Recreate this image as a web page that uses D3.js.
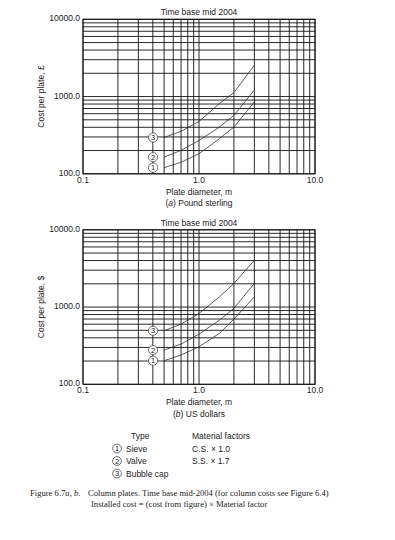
<!DOCTYPE html>
<html>
<head>
<meta charset="utf-8">
<script src="https://cdn.jsdelivr.net/npm/d3@7"></script>
<style>
  html, body { margin: 0; padding: 0; background: #fff; }
  svg { display: block; }
  .sans { font-family: "Liberation Sans", Arial, sans-serif; fill: #222; }
  .serif { font-family: "Liberation Serif", "Times New Roman", serif; fill: #222; }
</style>
</head>
<body>
<svg id="fig" width="395" height="540"></svg>
<script>
// plate diameter, m
const diameters = [0.5, 0.7, 1.0, 1.5, 2.0, 3.0];

// (a) Pound sterling
const poundSieve  = [120, 141, 182, 285, 403, 850];
const poundValve  = [164, 201, 270, 403, 571, 1210];
const poundBubble = [295, 354, 477, 811, 1125, 2550];

// (b) US dollars
const dollarSieve  = [202, 239, 306, 456, 698, 1355];
const dollarValve  = [277, 331, 447, 676, 960, 2020];
const dollarBubble = [493, 601, 826, 1355, 2020, 4040];

const xTickLabels = [0.1, 1, 10];
const yTickLabels = [100, 1000, 10000];

const legendTypes = ['Sieve', 'Valve', 'Bubble cap'];
const legendFactors = ['C.S. \u00d7 1.0', 'S.S. \u00d7 1.7'];

const svg = d3.select('#fig');

function gridValues(lo, hi) {
    const out = [];
    for (let d = lo; d < hi; d *= 10) {
        for (let k = 1; k < 10; k++) out.push(d * k);
    }
    out.push(hi);
    return out;
}

function drawChart(top, yLabel, subLabel, series) {
    const left = 83, right = 315, bottom = top + 154.5;
    const x = d3.scaleLog().domain([0.1, 10]).range([left, right]);
    const y = d3.scaleLog().domain([100, 10000]).range([bottom, top]);
    const g = svg.append('g');

    // grid
    g.append('g').selectAll('line').data(gridValues(0.1, 10)).join('line')
        .attr('x1', (d) => x(d)).attr('x2', (d) => x(d))
        .attr('y1', top).attr('y2', bottom)
        .attr('stroke', '#111').attr('stroke-width', 0.9);
    g.append('g').selectAll('line').data(gridValues(100, 10000)).join('line')
        .attr('x1', left).attr('x2', right)
        .attr('y1', (d) => y(d)).attr('y2', (d) => y(d))
        .attr('stroke', '#111').attr('stroke-width', 0.9);
    g.append('rect')
        .attr('x', left).attr('y', top)
        .attr('width', right - left).attr('height', bottom - top)
        .attr('fill', 'none').attr('stroke', '#111').attr('stroke-width', 1);

    // tick labels
    g.append('g').selectAll('text').data(yTickLabels).join('text')
        .attr('class', 'sans').attr('font-size', 8.5)
        .attr('x', left - 3).attr('y', (d) => y(d) + 2)
        .attr('text-anchor', 'end')
        .text((d) => d3.format('.1f')(d));
    g.append('g').selectAll('text').data(xTickLabels).join('text')
        .attr('class', 'sans').attr('font-size', 8.5)
        .attr('x', (d) => x(d)).attr('y', bottom + 9)
        .attr('text-anchor', 'middle')
        .text((d) => d3.format('.1f')(d));

    // titles
    g.append('text').attr('class', 'sans').attr('font-size', 8.5)
        .attr('x', 199).attr('y', top - 4).attr('text-anchor', 'middle')
        .text('Time base mid 2004');
    g.append('text').attr('class', 'sans').attr('font-size', 8.5)
        .attr('x', 199).attr('y', bottom + 21).attr('text-anchor', 'middle')
        .text('Plate diameter, m');
    const sub = g.append('text').attr('class', 'sans').attr('font-size', 8.5)
        .attr('x', 199).attr('y', bottom + 32.5).attr('text-anchor', 'middle');
    sub.append('tspan').text('(');
    sub.append('tspan').attr('font-style', 'italic').text(subLabel[0]);
    sub.append('tspan').text(') ' + subLabel[1]);
    g.append('text').attr('class', 'sans').attr('font-size', 8.5)
        .attr('transform', `translate(${44},${(top + bottom) / 2}) rotate(-90)`)
        .attr('text-anchor', 'middle')
        .text(yLabel);

    // curves
    const line = d3.line().x((d) => x(d[0])).y((d) => y(d[1]));
    series.forEach((vals, i) => {
        const pts = diameters.map((dm, j) => [dm, vals[j]]);
        g.append('path').datum(pts)
            .attr('d', line)
            .attr('fill', 'none').attr('stroke', '#333').attr('stroke-width', 0.8);
        const cx = x(diameters[0]) - 11, cy = y(vals[0]);
        g.append('circle').attr('cx', cx).attr('cy', cy).attr('r', 4.6)
            .attr('fill', '#fff').attr('stroke', '#333').attr('stroke-width', 0.7);
        g.append('text').attr('class', 'sans').attr('font-size', 7.5)
            .attr('x', cx).attr('y', cy + 2.7).attr('text-anchor', 'middle')
            .text(i + 1);
    });
}

drawChart(19.3, 'Cost per plate, \u00a3', ['a', 'Pound sterling'], [poundSieve, poundValve, poundBubble]);
drawChart(229.8, 'Cost per plate, $', ['b', 'US dollars'], [dollarSieve, dollarValve, dollarBubble]);

// legend
const lg = svg.append('g');
lg.append('text').attr('class', 'sans').attr('font-size', 8.5)
    .attr('x', 131).attr('y', 439).text('Type');
lg.append('text').attr('class', 'sans').attr('font-size', 8.5)
    .attr('x', 192).attr('y', 439).text('Material factors');
legendTypes.forEach((t, i) => {
    const cy = 448.5 + i * 12.5;
    lg.append('circle').attr('cx', 117).attr('cy', cy).attr('r', 4.4)
        .attr('fill', '#fff').attr('stroke', '#333').attr('stroke-width', 0.7);
    lg.append('text').attr('class', 'sans').attr('font-size', 7.5)
        .attr('x', 117).attr('y', cy + 2.7).attr('text-anchor', 'middle').text(i + 1);
    lg.append('text').attr('class', 'sans').attr('font-size', 8.5)
        .attr('x', 126).attr('y', cy + 3).text(t);
});
legendFactors.forEach((f, i) => {
    lg.append('text').attr('class', 'sans').attr('font-size', 8.5)
        .attr('x', 192).attr('y', 451.5 + i * 12.5).text(f);
});

// caption
const cap1 = svg.append('text').attr('class', 'serif').attr('font-size', 8.6)
    .attr('x', 30).attr('y', 495.7);
cap1.append('tspan').text('Figure 6.7');
cap1.append('tspan').attr('font-style', 'italic').text('a, b');
cap1.append('tspan').text('.');
svg.append('text').attr('class', 'serif').attr('font-size', 8.6)
    .attr('x', 88).attr('y', 495.7)
    .text('Column plates. Time base mid-2004 (for column costs see Figure 6.4)');
svg.append('text').attr('class', 'serif').attr('font-size', 8.6)
    .attr('x', 91).attr('y', 506.5)
    .text('Installed cost = (cost from figure) \u00d7 Material factor');
</script>
</body>
</html>
